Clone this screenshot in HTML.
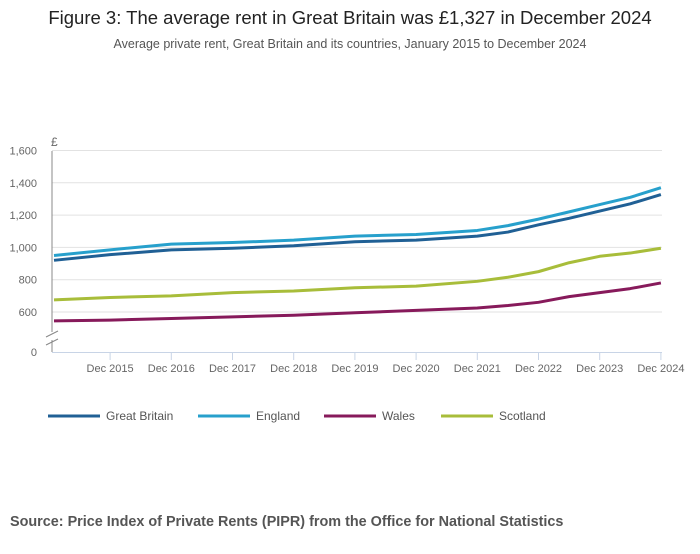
<!DOCTYPE html>
<html><head><meta charset="utf-8"><style>
body{margin:0;background:#fff;font-family:"Liberation Sans",sans-serif;}
svg text{font-family:"Liberation Sans",sans-serif;}
</style></head><body>
<svg width="700" height="549">
<text x="350" y="24" text-anchor="middle" font-size="18.5" fill="#222">Figure 3: The average rent in Great Britain was £1,327 in December 2024</text>
<text x="350" y="48" text-anchor="middle" font-size="12.5" fill="#555">Average private rent, Great Britain and its countries, January 2015 to December 2024</text>
<g id="grid"></g><g id="axes"></g><g id="lines"></g><g id="legend"></g>
<text x="10" y="526" font-size="14.4" font-weight="bold" fill="#555">Source: Price Index of Private Rents (PIPR) from the Office for National Statistics</text>
</svg>
<script>
// months since Jan 2015
const months = [0, 11, 23, 35, 47, 59, 71, 83, 89, 95, 101, 107, 113, 119];
const gb = [920, 955, 985, 995, 1010, 1035, 1045, 1070, 1095, 1140, 1180, 1225, 1270, 1327];
const england = [950, 985, 1020, 1030, 1045, 1070, 1080, 1105, 1135, 1175, 1220, 1265, 1310, 1370];
const wales = [545, 550, 560, 570, 580, 595, 610, 625, 640, 660, 695, 720, 745, 780];
const scotland = [675, 690, 700, 720, 730, 750, 760, 790, 815, 850, 905, 945, 965, 995];
const yTicks = [600, 800, 1000, 1200, 1400, 1600];
const xLabels = ["Dec 2015","Dec 2016","Dec 2017","Dec 2018","Dec 2019","Dec 2020","Dec 2021","Dec 2022","Dec 2023","Dec 2024"];
const xLabelMonths = [11,23,35,47,59,71,83,95,107,119];
const NS="http://www.w3.org/2000/svg";
const x = m => 54 + m*5.1;
const y = v => 312 - (v-600)*32.3/200;
function mk(tag, attrs, parent){const e=document.createElementNS(NS,tag);for(const k in attrs)e.setAttribute(k,attrs[k]);document.getElementById(parent).appendChild(e);return e;}
yTicks.forEach(v=>{
  const l=mk('line',{x1:52,x2:662,y1:y(v),y2:y(v),stroke:'#e2e2e2'},'grid');
  
  
  const t=mk('text',{x:37,y:y(v)+4,'text-anchor':'end','font-size':11,fill:'#666'},'grid');
  t.textContent=v.toLocaleString('en-GB');
  
  
});
let z=mk('text',{x:37,y:356,'text-anchor':'end','font-size':11,fill:'#666'},'axes');z.textContent='0';


let pd=mk('text',{x:51,y:146,'font-size':12,fill:'#666'},'axes');pd.textContent='£';


mk('line',{x1:52,x2:52,y1:151,y2:332,stroke:'#888'},'axes');
mk('line',{x1:52,x2:52,y1:340,y2:352,stroke:'#888'},'axes');
mk('line',{x1:46,x2:58,y1:337,y2:331,stroke:'#888'},'axes');
mk('line',{x1:46,x2:58,y1:345,y2:339,stroke:'#888'},'axes');
mk('line',{x1:52,x2:662,y1:352.5,y2:352.5,stroke:'#c8d4e6'},'axes');
xLabels.forEach((s,i)=>{
  const xx=x(xLabelMonths[i]);
  mk('line',{x1:xx,x2:xx,y1:352,y2:360,stroke:'#c8d4e6'},'axes');
  const t=mk('text',{x:xx,y:372,'text-anchor':'middle','font-size':11,fill:'#666'},'axes');
  t.textContent=s;
  
  
});
const series=[["Great Britain",gb,"#206095"],["England",england,"#27a0cc"],["Wales",wales,"#871a5b"],["Scotland",scotland,"#a8bd3a"]];
series.forEach(([n,d,c])=>{
  const p=mk('path',{d:d.map((v,i)=>(i?'L':'M')+x(months[i])+','+y(v)).join(''),fill:'none',stroke:c,'stroke-width':3,'stroke-linejoin':'round'},'lines');
  
  
});
const lx=[48,198,324,441];
series.forEach(([n,d,c],i)=>{
  mk('line',{x1:lx[i],x2:lx[i]+52,y1:416,y2:416,stroke:c,'stroke-width':3},'legend');
  const t=mk('text',{x:lx[i]+58,y:420,'font-size':12,fill:'#555'},'legend');
  t.textContent=n;
  
  
});
</script>
</body></html>
